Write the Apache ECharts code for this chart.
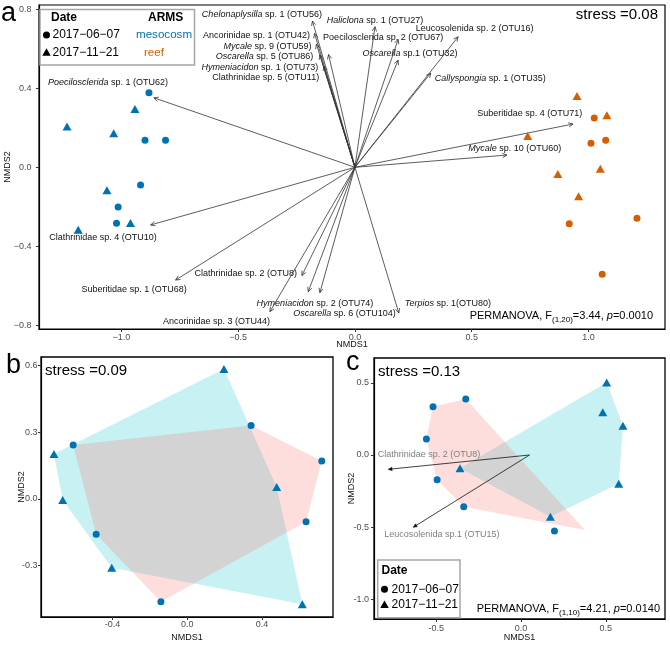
<!DOCTYPE html>
<html><head><meta charset="utf-8">
<script src="https://cdn.jsdelivr.net/npm/echarts@6/dist/echarts.min.js"></script>
<style>html,body{margin:0;padding:0;background:#fff}#c{width:670px;height:647px}</style>
</head><body><div id="c"></div>
<script>
// ---------- Panel a : NMDS of ARMS (mesocosm vs reef) ----------
const aMesoCircle = [[-0.882,0.378],[-0.899,0.137],[-0.811,0.137],[-0.918,-0.090],[-1.014,-0.201],[-1.021,-0.284]];
const aMesoTriangle = [[-0.942,0.295],[-1.233,0.206],[-1.033,0.172],[-1.062,-0.116],[-0.961,-0.282],[-1.185,-0.316]];
const aReefCircle = [[1.025,0.250],[1.011,0.122],[1.074,0.137],[0.918,-0.286],[1.208,-0.258],[1.059,-0.542]];
const aReefTriangle = [[0.951,0.361],[1.079,0.263],[0.740,0.158],[1.051,-0.007],[0.869,-0.034],[0.958,-0.147]];
const aOrigin = [0, 0];
const aArrowLabels = [
  '{i|Chelonaplysilla} sp. 1 (OTU56)','Ancorinidae sp. 1 (OTU42)','{i|Mycale} sp. 9 (OTU59)',
  '{i|Oscarella} sp. 5 (OTU86)','{i|Hymeniacidon} sp. 1 (OTU73)','Clathrinidae sp. 5 (OTU11)',
  '{i|Haliclona} sp. 1 (OTU27)','Poecilosclerida sp. 2 (OTU67)','{i|Oscarella} sp.1 (OTU32)',
  'Leucosolenida sp. 2 (OTU16)','{i|Callyspongia} sp. 1 (OTU35)','Suberitidae sp. 4 (OTU71)',
  '{i|Mycale} sp. 10 (OTU60)','{i|Poecilosclerida} sp. 1 (OTU62)','Clathrinidae sp. 4 (OTU10)',
  'Suberitidae sp. 1 (OTU68)','Clathrinidae sp. 2 (OTU8)','{i|Hymeniacidon} sp. 2 (OTU74)',
  '{i|Oscarella} sp. 6 (OTU104)','Ancorinidae sp. 3 (OTU44)','{i|Terpios} sp. 1(OTU80)'
];
const aArrowX = [-0.182,-0.173,-0.165,-0.150,-0.113,-0.133,0.086,0.185,0.185,0.442,0.325,0.934,0.651,-0.861,-0.875,-0.768,-0.227,-0.200,-0.150,-0.364,0.188];
const aArrowY = [0.741,0.678,0.624,0.569,0.571,0.513,0.712,0.648,0.543,0.661,0.477,0.219,0.062,0.352,-0.292,-0.571,-0.548,-0.630,-0.635,-0.731,-0.738];
const aXTicks = [-1.0,-0.5,0.0,0.5,1.0];
const aYTicks = [-0.8,-0.4,0.0,0.4,0.8];

// ---------- Panel b ----------
const bCircle = [[0.341,0.331],[-0.610,0.243],[0.719,0.171],[0.635,-0.102],[-0.487,-0.159],[-0.141,-0.462]];
const bTriangle = [[0.196,0.585],[-0.713,0.202],[0.478,0.054],[-0.666,-0.005],[-0.404,-0.309],[0.615,-0.474]];
const bHullCircle = [[-0.610,0.243],[0.341,0.331],[0.719,0.171],[0.635,-0.102],[-0.141,-0.462],[-0.487,-0.159]];
const bHullTriangle = [[0.196,0.585],[0.478,0.054],[0.615,-0.474],[-0.404,-0.309],[-0.666,-0.005],[-0.713,0.202]];
const bXTicks = [-0.4,0.0,0.4];
const bYTicks = [-0.3,0.0,0.3,0.6];

// ---------- Panel c ----------
const cCircle = [[-0.326,0.388],[-0.519,0.335],[-0.558,0.111],[-0.495,-0.171],[-0.338,-0.358],[0.197,-0.526]];
const cTriangle = [[0.505,0.503],[0.482,0.296],[0.601,0.203],[-0.360,-0.092],[0.576,-0.199],[0.173,-0.427]];
const cHullCircle = [[-0.519,0.335],[-0.326,0.388],[0.377,-0.520],[-0.338,-0.358],[-0.495,-0.171],[-0.558,0.111]];
const cHullTriangle = [[0.505,0.503],[0.601,0.203],[0.576,-0.199],[0.173,-0.427],[-0.360,-0.092]];
const cOrigin = [0.05, 0];
const cArrowLabels = ['Clathrinidae sp. 2 (OTU8)','Leucosolenida sp.1 (OTU15)'];
const cArrowX = [-0.782,-0.635];
const cArrowY = [-0.099,-0.500];
const cXTicks = [-0.5,0.0,0.5];
const cYTicks = [-1.0,-0.5,0.0,0.5];

// ---------- layout / style (pixel offsets of labels from arrow tips) ----------
const aLabelLayout = [
  [9.5,-6,'right'],[-4.5,1.7,'right'],[-4.8,2,'right'],[-6.7,1.7,'right'],[-10.4,12.5,'right'],[-4.7,12,'right'],
  [-48.3,-6.7,'left'],[-75,-2.3,'left'],[-35.6,-6.7,'left'],[-42.3,-8.4,'left'],[4,5.7,'left'],[-95.7,-11,'left'],
  [-38.7,-6.5,'left'],[-106,-15,'left'],[-101.4,12.3,'left'],[-94,9.3,'left'],[-5,-1.5,'right'],[-51.6,11.6,'left'],
  [-26.7,20.6,'left'],[0,10,'right'],[6,-9.7,'left']
];
const cLabelLayout = [[-10.6,-14.3,'left'],[-29,7.7,'left']];

const FONT = '"Liberation Sans", Arial, Helvetica, sans-serif';
const BLUE = '#0072B2', ORANGE = '#D55E00';
const PINK = 'rgba(248,118,109,0.24)', CYAN = 'rgba(0,191,196,0.22)';

const chart = echarts.init(document.getElementById('c'), null, {renderer:'canvas'});

function fmtMinus(v){ return (v < 0 ? '\u2212' : '') + Math.abs(v).toFixed(1); }
function fmtHyphen(v){ return (v < 0 ? '-' : '') + Math.abs(v).toFixed(1); }

function xAx(gi, min, max, ticks, fmt, nameGap, margin){
  return {type:'value', gridIndex:gi, min, max, name:'NMDS1', nameLocation:'middle', nameGap, nameMoveOverlap:false,
    nameTextStyle:{fontSize:9, color:'#111', fontFamily:FONT},
    axisLine:{show:true, onZero:false, lineStyle:{color:'#000', width:1.2}},
    axisTick:{show:true, length:3, customValues:ticks, lineStyle:{color:'#333'}},
    axisLabel:{customValues:ticks, formatter:fmt, fontSize:9, color:'#4d4d4d', margin, fontFamily:FONT},
    splitLine:{show:false}};
}
function yAx(gi, min, max, ticks, fmt, nameGap, margin){
  return {type:'value', gridIndex:gi, min, max, name:'NMDS2', nameLocation:'middle', nameGap, nameMoveOverlap:false,
    nameTextStyle:{fontSize:9, color:'#111', fontFamily:FONT},
    axisLine:{show:true, onZero:false, lineStyle:{color:'#000', width:1.2}},
    axisTick:{show:true, length:3, customValues:ticks, lineStyle:{color:'#333'}},
    axisLabel:{customValues:ticks, formatter:fmt, fontSize:9, color:'#4d4d4d', margin, fontFamily:FONT},
    splitLine:{show:false}};
}

function scatter(gi, data, sym, color){
  return {type:'scatter', xAxisIndex:gi, yAxisIndex:gi, data, symbol:sym,
    symbolSize: sym === 'triangle' ? [9,8] : 7, itemStyle:{color, opacity:1}, silent:true, z:5};
}
function polygon(gi, pts, color){
  return {type:'custom', xAxisIndex:gi, yAxisIndex:gi, data:pts, silent:true, z:1,
    renderItem:(params, api) => {
      if (params.dataIndex !== 0) return null;
      return {type:'polygon', shape:{points: pts.map(p => api.coord(p))}, style:{fill:color}};
    }};
}
function arrows(gi, origin, xs, ys, labels, layout, opt){
  return {type:'custom', xAxisIndex:gi, yAxisIndex:gi, silent:true, z:4, clip:false,
    data: xs.map((x,i) => [x, ys[i], i]),
    renderItem:(params, api) => {
      const o = api.coord(origin);
      const t = api.coord([api.value(0), api.value(1)]);
      const i = api.value(2);
      const ang = Math.atan2(t[1]-o[1], t[0]-o[0]);
      const L = opt.head, A = Math.PI/7;
      const h1 = [t[0]-L*Math.cos(ang-A), t[1]-L*Math.sin(ang-A)];
      const h2 = [t[0]-L*Math.cos(ang+A), t[1]-L*Math.sin(ang+A)];
      const lay = layout[i];
      const head = opt.filled
        ? {type:'polygon', shape:{points:[h1,t,h2]}, style:{fill:opt.color, stroke:opt.color, lineWidth:0.5}}
        : {type:'polyline', shape:{points:[h1,t,h2]}, style:{stroke:opt.color, fill:null, lineWidth:0.8}};
      return {type:'group', children:[
        {type:'line', shape:{x1:o[0], y1:o[1], x2:t[0], y2:t[1]}, style:{stroke:opt.color, lineWidth:0.8}},
        head,
        {type:'text', x:t[0]+lay[0], y:t[1]+lay[1], style:{text:labels[i], fontSize:9, fontFamily:FONT,
          fill:opt.textColor, align:lay[2], verticalAlign:'middle',
          rich:{i:{fontStyle:'italic', fontSize:9, fontFamily:FONT, fill:opt.textColor}}}}
      ]};
    }};
}

function txt(x, y, text, o){
  return {type:'text', x, y, z:20, style:Object.assign({text, fontFamily:FONT, fontSize:12, fill:'#000', align:'left', verticalAlign:'middle'}, o||{})};
}
function tri(cx, cy, w, h, fill){
  return {type:'polygon', z:20, shape:{points:[[cx, cy-h/2],[cx+w/2, cy+h/2],[cx-w/2, cy+h/2]]}, style:{fill}};
}
const permRich = {sub:{fontSize:8, fontFamily:FONT, padding:[7,0,0,0], fill:'#000'}, i:{fontStyle:'italic', fontSize:11, fontFamily:FONT, fill:'#000'}};

const gridBase = {show:true, borderColor:'#000', backgroundColor:'transparent', containLabel:false, outerBoundsMode:'none'};
const option = {
  animation:false,
  backgroundColor:'#fff',
  grid:[
    Object.assign({left:39, top:5, width:626, height:324, borderWidth:1.2}, gridBase),
    Object.assign({left:41, top:357, width:292, height:260, borderWidth:1.3}, gridBase),
    Object.assign({left:374, top:358, width:291, height:261, borderWidth:1.3}, gridBase)
  ],
  xAxis:[
    xAx(0, -1.353, 1.328, aXTicks, fmtMinus, 11.5, 4.5),
    xAx(1, -0.782, 0.779, bXTicks, fmtHyphen, 16.5, 3.5),
    xAx(2, -0.867, 0.849, cXTicks, fmtHyphen, 14.5, 5)
  ],
  yAxis:[
    yAx(0, -0.819, 0.822, aYTicks, fmtMinus, 27, 7.5),
    yAx(1, -0.531, 0.639, bYTicks, fmtHyphen, 14.5, 3.5),
    yAx(2, -1.136, 0.672, cYTicks, fmtHyphen, 17.5, 5)
  ],
  series:[
    arrows(0, aOrigin, aArrowX, aArrowY, aArrowLabels, aLabelLayout, {color:'#333', textColor:'#111', head:5, filled:false}),
    scatter(0, aMesoCircle, 'circle', BLUE),
    scatter(0, aMesoTriangle, 'triangle', BLUE),
    scatter(0, aReefCircle, 'circle', ORANGE),
    scatter(0, aReefTriangle, 'triangle', ORANGE),

    polygon(1, bHullTriangle, CYAN),
    polygon(1, bHullCircle, PINK),
    scatter(1, bCircle, 'circle', BLUE),
    scatter(1, bTriangle, 'triangle', BLUE),

    polygon(2, cHullTriangle, CYAN),
    polygon(2, cHullCircle, PINK),
    scatter(2, cCircle, 'circle', BLUE),
    scatter(2, cTriangle, 'triangle', BLUE),
    arrows(2, cOrigin, cArrowX, cArrowY, cArrowLabels, cLabelLayout, {color:'#111', textColor:'#808080', head:4, filled:true})
  ],
  graphic:[
    // panel letters
    txt(1, 14, 'a', {fontSize:27}),
    txt(6, 366, 'b', {fontSize:27}),
    txt(346, 363, 'c', {fontSize:27}),
    // stress values
    txt(658, 15, 'stress =0.08', {fontSize:15, align:'right'}),
    txt(45, 371, 'stress =0.09', {fontSize:15}),
    txt(378, 372, 'stress =0.13', {fontSize:15}),
    // PERMANOVA
    txt(653, 316, 'PERMANOVA, F{sub|(1,20)}=3.44, {i|p}=0.0010', {fontSize:11, align:'right', rich:permRich}),
    txt(660, 609, 'PERMANOVA, F{sub|(1,10)}=4.21, {i|p}=0.0140', {fontSize:11, align:'right', rich:permRich}),
    // legend panel a
    {type:'rect', z:19, shape:{x:40, y:9.5, width:154.5, height:55.5}, style:{fill:'#fff', stroke:'#a6a6a6', lineWidth:1.5}},
    txt(51, 17.5, 'Date', {fontWeight:'bold'}),
    txt(148, 17.5, 'ARMS', {fontWeight:'bold'}),
    {type:'circle', z:20, shape:{cx:46.5, cy:35, r:3.5}, style:{fill:'#000'}},
    txt(52.5, 35, '2017\u221206\u221207'),
    tri(46.5, 52, 8.5, 7.5, '#000'),
    txt(52.5, 52.5, '2017\u221211\u221221'),
    txt(136, 35, 'mesocosm', {fill:BLUE, fontSize:11.6}),
    txt(144, 52.5, 'reef', {fill:ORANGE, fontSize:11.6}),
    // legend panel c
    {type:'rect', z:19, shape:{x:377.7, y:560, width:82.3, height:57.7}, style:{fill:'#fff', stroke:'#a6a6a6', lineWidth:1.5}},
    txt(381.5, 570.5, 'Date', {fontWeight:'bold'}),
    {type:'circle', z:20, shape:{cx:384.5, cy:589.3, r:3.5}, style:{fill:'#000'}},
    txt(391.5, 589.3, '2017\u221206\u221207'),
    tri(384.5, 604.3, 8.5, 7.5, '#000'),
    txt(391.5, 604.6, '2017\u221211\u221221')
  ]
};
chart.setOption(option);
</script>
</body></html>
